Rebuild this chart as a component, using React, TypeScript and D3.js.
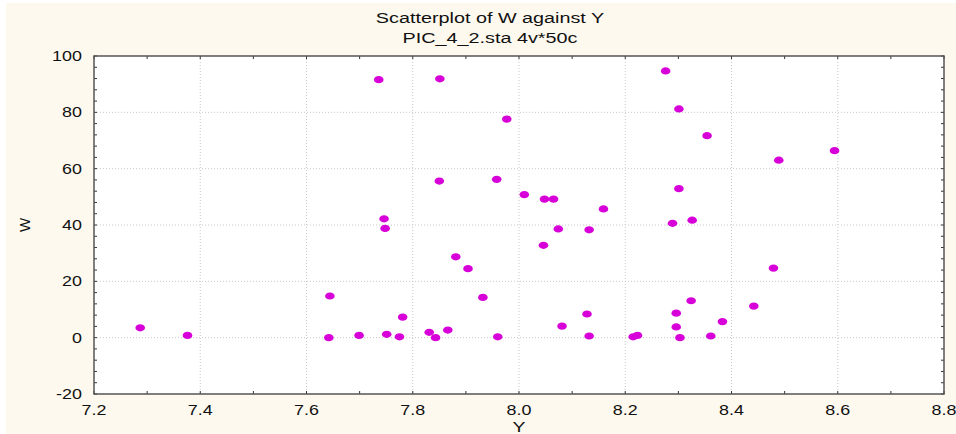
import React from "react";
import * as d3 from "d3";

const yValues = [
  7.287, 7.376, 7.644, 7.642, 7.699, 7.736, 7.746, 7.748, 7.751, 7.775,
  7.781, 7.831, 7.843, 7.851, 7.85, 7.866, 7.881, 7.904, 7.932, 7.96,
  7.958, 7.977, 8.01, 8.046, 8.048, 8.065, 8.074, 8.081, 8.128, 8.132,
  8.132, 8.159, 8.215, 8.223, 8.276, 8.289, 8.296, 8.296, 8.301, 8.301,
  8.303, 8.324, 8.326, 8.354, 8.361, 8.383, 8.442, 8.479, 8.489, 8.594,
];
const wValues = [
  3.5, 0.8, 14.8, 0.0, 0.8, 91.6, 42.2, 38.8, 1.2, 0.3,
  7.3, 1.9, 0.0, 91.9, 55.6, 2.7, 28.7, 24.5, 14.3, 0.3,
  56.2, 77.6, 50.8, 32.8, 49.2, 49.2, 38.6, 4.1, 8.4, 38.3,
  0.6, 45.7, 0.3, 0.8, 94.7, 40.6, 8.7, 3.8, 81.2, 52.9,
  0.0, 13.1, 41.7, 71.7, 0.6, 5.7, 11.2, 24.7, 63.0, 66.4,
];
const xTicks = [7.2, 7.4, 7.6, 7.8, 8.0, 8.2, 8.4, 8.6, 8.8];
const yTicks = [-20, 0, 20, 40, 60, 80, 100];
const titleLines = ["Scatterplot of W against Y", "PIC_4_2.sta 4v*50c"];
const xLabel = "Y";
const yLabel = "W";

const W = 956;
const H = 434;
const L = 94, R = 944, T = 56, B = 394;
const FONT = "'Liberation Sans', Arial, sans-serif";

function SText({ x, y, anchor = "middle", size = 14, sx = 1.3, rotate = 0, children }: any) {
  return (
    <text
      transform={`translate(${x},${y}) rotate(${rotate}) scale(${sx},1)`}
      textAnchor={anchor}
      fontSize={size}
      fill="#111"
    >
      {children}
    </text>
  );
}

export default function App() {
  const x = d3.scaleLinear().domain([7.2, 8.8]).range([L, R]);
  const y = d3.scaleLinear().domain([-20, 100]).range([B, T]);
  const xMinor = d3.range(0, 17).map((i) => 7.2 + i * 0.1);
  const yMinor = d3.range(0, 31).map((i) => -20 + i * 4);
  const pts = yValues.map((v, i) => ({ x: v, y: wValues[i] }));

  return (
    <svg
      width={W}
      height={H}
      style={{ position: "absolute", left: 0, top: 0, display: "block" }}
      fontFamily={FONT}
    >
      <rect x={0} y={0} width={W} height={H} fill="#ffffff" />
      <rect x={6} y={3} width={W - 6} height={H - 3} fill="#fef9ee" />
      <rect x={L} y={T} width={R - L} height={B - T} fill="#ffffff" />
      {xTicks.slice(1, -1).map((t) => (
        <line key={"gx" + t} x1={x(t)} x2={x(t)} y1={T} y2={B}
          stroke="#c8c8c8" strokeWidth={1} strokeDasharray="1,2" />
      ))}
      {yTicks.slice(1, -1).map((t) => (
        <line key={"gy" + t} x1={L} x2={R} y1={y(t)} y2={y(t)}
          stroke="#c8c8c8" strokeWidth={1} strokeDasharray="1,2" />
      ))}
      {xMinor.map((t, i) => (
        <g key={"mx" + i}>
          <line x1={x(t)} x2={x(t)} y1={B} y2={B - 3} stroke="#333" />
          <line x1={x(t)} x2={x(t)} y1={T} y2={T + 3} stroke="#333" />
        </g>
      ))}
      {yMinor.map((t, i) => (
        <g key={"my" + i}>
          <line x1={L} x2={L + 3} y1={y(t)} y2={y(t)} stroke="#333" />
          <line x1={R} x2={R - 3} y1={y(t)} y2={y(t)} stroke="#333" />
        </g>
      ))}
      <rect x={L} y={T} width={R - L} height={B - T} fill="none"
        stroke="#555" strokeWidth={1.5} />
      {pts.map((p, i) => (
        <ellipse key={"p" + i} cx={x(p.x)} cy={y(p.y)} rx={4.8} ry={3.6}
          fill="#d800d8" />
      ))}
      {xTicks.map((t) => (
        <SText key={"tx" + t} x={x(t)} y={B + 21} sx={1.28}>{t.toFixed(1)}</SText>
      ))}
      {yTicks.map((t) => (
        <SText key={"ty" + t} x={L - 12} y={y(t) + 5} anchor="end" sx={1.28}>{t}</SText>
      ))}
      <SText x={490} y={23} size={15} sx={1.32}>{titleLines[0]}</SText>
      <SText x={490} y={43} size={15} sx={1.32}>{titleLines[1]}</SText>
      <SText x={519} y={432} size={15} sx={1.3}>{xLabel}</SText>
      <SText x={30} y={225} size={15} sx={1} rotate={-90}>{yLabel}</SText>
    </svg>
  );
}
